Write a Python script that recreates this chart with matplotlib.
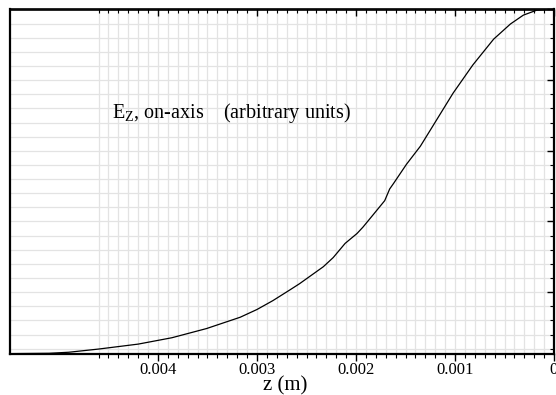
import numpy as np
import matplotlib
matplotlib.use("Agg")
import matplotlib.pyplot as plt
from matplotlib.ticker import FixedLocator, NullFormatter

plt.rcParams['font.family'] = ['Liberation Serif', 'DejaVu Serif']
plt.rcParams['mathtext.fontset'] = 'custom'
plt.rcParams['mathtext.rm'] = 'Liberation Serif'

# on-axis field (z in m, field in arbitrary units)
z = [0.0055, 0.0051, 0.0049, 0.0046, 0.0042, 0.00386, 0.00351, 0.00317,
     0.0030, 0.00284, 0.00267, 0.00257, 0.0025, 0.00233, 0.00223, 0.00211,
     0.00199, 0.00193, 0.00183, 0.00171, 0.00166, 0.00162, 0.00149, 0.00135,
     0.00122, 0.00102, 0.00082, 0.00061, 0.00044, 0.00031, 0.000175, 0.00008, 0.0]
ez = [0.026, 0.027, 0.030, 0.039, 0.053, 0.071, 0.097, 0.129,
      0.151, 0.176, 0.206, 0.224, 0.238, 0.272, 0.298, 0.338,
      0.366, 0.384, 0.418, 0.459, 0.492, 0.508, 0.562, 0.613,
      0.672, 0.763, 0.843, 0.916, 0.959, 0.984, 0.998, 1.0, 1.0]

xmajor = [0.004, 0.003, 0.002, 0.001, 0.0]
xlabels = ['0.004', '0.003', '0.002', '0.001', '0']
xminor = [i * 0.0001 for i in range(0, 47)]
ymajor = [0.2, 0.4, 0.6, 0.8, 1.0]
yminor = [i * 0.04 for i in range(1, 26)]

fig = plt.figure(figsize=(5.56, 3.95), dpi=100)
ax = fig.add_axes([9.5 / 556, 1 - 354 / 395, (554 - 9.5) / 556, (354 - 9.5) / 395])

# grid: vertical lines only over the tick range, horizontal full width
for xv in xminor:
    ax.axvline(xv, color='#e3e3e3', lw=0.9, zorder=0)
for yv in yminor:
    ax.axhline(yv, color='#e3e3e3', lw=0.9, zorder=0)

ax.plot(z, ez, color='black', lw=0.9, zorder=3)

ax.set_xlim(0.0055, 0.0)
ax.set_ylim(0.025, 1.0)

ax.xaxis.set_major_locator(FixedLocator(xmajor))
ax.set_xticklabels(xlabels)
ax.xaxis.set_minor_locator(FixedLocator(xminor))
ax.tick_params(axis='x', which='major', direction='out', length=5, width=1,
               labelsize=12, pad=0.5)
ax.tick_params(axis='x', which='minor', direction='out', length=3, width=0.8)

ax.yaxis.tick_right()
ax.yaxis.set_major_locator(FixedLocator(ymajor))
ax.yaxis.set_minor_locator(FixedLocator(yminor))
ax.yaxis.set_major_formatter(NullFormatter())
ax.tick_params(axis='y', which='major', direction='in', length=5, width=1)
ax.tick_params(axis='y', which='minor', direction='in', length=3, width=0.8)

top = ax.secondary_xaxis('top')
top.xaxis.set_major_locator(FixedLocator(xmajor))
top.xaxis.set_minor_locator(FixedLocator(xminor))
top.xaxis.set_major_formatter(NullFormatter())
top.tick_params(which='major', direction='in', length=5, width=1)
top.tick_params(which='minor', direction='in', length=3, width=0.8)
top.spines['top'].set_linewidth(1.2)

for s in ['left', 'bottom', 'right']:
    ax.spines[s].set_linewidth(1.6)
ax.spines['top'].set_linewidth(1.2)

ax.set_xlabel('z (m)', fontsize=15)
ax.xaxis.set_label_coords(0.507, -0.064)

ax.text(0.188, 0.684, r'E$_{\mathrm{Z}}$, on-axis    (arbitrary units)',
        transform=ax.transAxes, fontsize=14.5, va='baseline')

fig.savefig('out.png', dpi=100)
